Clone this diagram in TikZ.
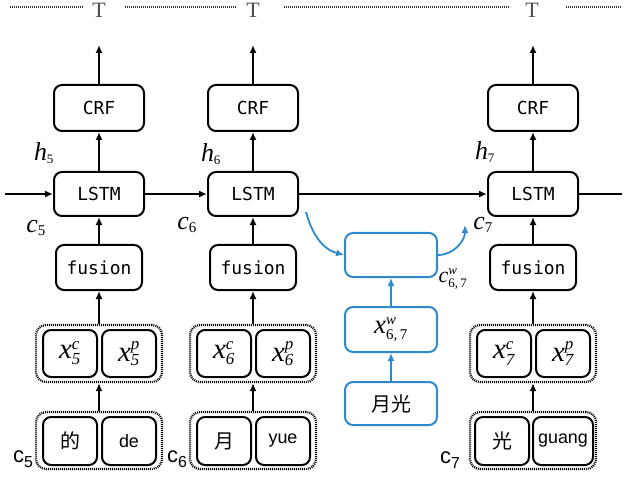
\documentclass[tikz,border=0pt]{standalone}
\usepackage{fontspec}
\usetikzlibrary{arrows.meta}
\newfontfamily\monof{DejaVu Sans Mono}
\newfontfamily\sansf{Liberation Sans}
\newfontfamily\cjkf{Noto Sans CJK SC}
\newfontfamily\serf{Liberation Serif}
\definecolor{myblue}{RGB}{46,138,204}
\newcommand\tv[4][13]{\ensuremath{\mbox{\serf\itshape #2}^{\mbox{\serf\itshape\fontsize{#1}{#1}\selectfont #3}}_{\mbox{\serf\fontsize{#1}{#1}\selectfont #4}}}}
\newcommand\tvi[3]{\ensuremath{\mbox{\serf\itshape #1}^{\mbox{\serf\itshape\fontsize{17}{17}\selectfont #2}}_{\mbox{\serf\itshape\fontsize{17}{17}\selectfont #3}}}}
\newcommand\tvs[3][13]{\ensuremath{\mbox{\serf\itshape #2}_{\mbox{\serf\fontsize{#1}{#1}\selectfont #3}}}}
\begin{document}
\begin{tikzpicture}[x=1bp,y=-1bp,
  box/.style={draw, line width=2bp, rounded corners=8bp, inner sep=0pt, anchor=center},
  crfbox/.style={box, minimum width=90bp, minimum height=46bp, font=\monof\fontsize{18}{18}\selectfont},
  lstmbox/.style={box, minimum width=90bp, minimum height=44bp, font=\monof\fontsize{18}{18}\selectfont},
  fusbox/.style={box, minimum width=86bp, minimum height=45bp, font=\monof\fontsize{18}{18}\selectfont},
  inbox/.style={box, minimum width=54bp, minimum height=47bp, font=\fontsize{29}{29}\selectfont},
  chbox/.style={box, minimum width=54bp, minimum height=48bp, font=\cjkf\fontsize{20}{20}\selectfont},
  pybox/.style={box, minimum width=54bp, minimum height=48bp, font=\sansf\fontsize{18}{18}\selectfont},
  grp/.style={draw, line width=2.2bp, dash pattern=on 1bp off 1bp, rounded corners=10bp, minimum width=126bp, minimum height=57bp, inner sep=0pt},
  bbox/.style={box, draw=myblue, minimum width=92bp},
  arr/.style={-{Latex[length=8bp,width=7bp]}, line width=1.8bp},
  barr/.style={arr, draw=myblue, color=myblue},
  topdot/.style={line width=2.5bp, dash pattern=on 1.2bp off 0.8bp, draw=black!80},
  lbl/.style={font=\fontsize{26}{26}\selectfont, inner sep=0pt},
  slbl/.style={font=\sansf\fontsize{22}{22}\selectfont, inner sep=0pt}
]
\useasboundingbox (0,0) rectangle (629,479);

% top row
\node[font=\serf\fontsize{22}{22}\selectfont, text=black!70, inner sep=0pt] (T1) at (99,10) {T};
\node[font=\serf\fontsize{22}{22}\selectfont, text=black!70, inner sep=0pt] (T2) at (253,10) {T};
\node[font=\serf\fontsize{22}{22}\selectfont, text=black!70, inner sep=0pt] (T3) at (532,10) {T};
\coordinate (d0) at (10,7); \coordinate (d1) at (83,7);
\coordinate (d2) at (125,7); \coordinate (d3) at (236,7);
\coordinate (d4) at (284,7); \coordinate (d5) at (510,7);
\coordinate (d6) at (566,7); \coordinate (d7) at (621,7);
\draw[topdot] (d0) -- (d1);
\draw[topdot] (d2) -- (d3);
\draw[topdot] (d4) -- (d5);
\draw[topdot] (d6) -- (d7);

% columns
\foreach \i/\X in {1/99,2/253,3/533}{
  \node[crfbox] (crf\i) at (\X,108) {CRF};
  \node[lstmbox] (lstm\i) at (\X,194) {LSTM};
  \node[fusbox] (fus\i) at (\X,267.5) {fusion};
  \node[grp] (gt\i) at (\X,353.5) {};
  \node[grp] (gb\i) at (\X,440.5) {};
  \coordinate (top\i) at (\X,45);
  \draw[arr] (crf\i.north) -- (top\i);
  \draw[arr] (lstm\i.north) -- (crf\i.south);
  \draw[arr] (fus\i.north) -- (lstm\i.south);
  \draw[arr] (gt\i.north) -- (fus\i.south);
  \draw[arr] (gb\i.north) -- (gt\i.south);
}

% inner boxes
\node[inbox] (xc5) at (70,353.5) {\tvi{x}{c}{5}};
\node[inbox] (xp5) at (129,353.5) {\tvi{x}{p}{5}};
\node[inbox] (xc6) at (224,353.5) {\tvi{x}{c}{6}};
\node[inbox] (xp6) at (283,353.5) {\tvi{x}{p}{6}};
\node[inbox] (xc7) at (504,353.5) {\tvi{x}{c}{7}};
\node[inbox] (xp7) at (563,353.5) {\tvi{x}{p}{7}};

\node[chbox] (ch5) at (70,441) {的};
\node[pybox] (py5) at (129,441) {de};
\node[chbox] (ch6) at (224,441) {月};
\node[pybox] (py6) at (283,441) {yue};
\node[chbox] (ch7) at (502,441) {光};
\node[pybox, minimum width=60bp] (py7) at (563,441) {guang};

% horizontal chain
\coordinate (hin) at (5,194);
\coordinate (hout) at (622,194);
\draw[arr] (hin) -- (lstm1.west);
\draw[arr] (lstm1.east) -- (lstm2.west);
\draw[arr] (lstm2.east) -- (lstm3.west);
\draw[line width=1.8bp] (lstm3.east) -- (hout);

% labels
\node[lbl] (h5) at (44,153) {\tvs{h}{5}};
\node[lbl] (h6) at (211,154) {\tvs{h}{6}};
\node[lbl] (h7) at (485,152) {\tvs{h}{7}};
\node[lbl] (c5) at (36,228) {\tvs[15]{c}{5}};
\node[lbl] (c6) at (187,225) {\tvs[15]{c}{6}};
\node[lbl] (c7) at (483,225) {\tvs[15]{c}{7}};
\node[font=\fontsize{22}{22}\selectfont, inner sep=0pt] (cw) at (453,279) {\tv[13]{c}{w}{6,\,7}};

\node[slbl] (b5) at (23,459) {c\raisebox{-5bp}{\fontsize{16}{16}\selectfont 5}};
\node[slbl] (b6) at (177,459) {c\raisebox{-5bp}{\fontsize{16}{16}\selectfont 6}};
\node[slbl] (b7) at (450,460) {c\raisebox{-5bp}{\fontsize{16}{16}\selectfont 7}};

% blue word path
\node[bbox, minimum height=44bp] (wcell) at (391,255) {};
\node[bbox, minimum height=45bp, font=\fontsize{27}{27}\selectfont] (xw) at (391,329.5) {\tv[15]{x}{w}{6,\,7}};
\node[bbox, minimum height=43bp, font=\cjkf\fontsize{20}{20}\selectfont] (word) at (391,403.5) {月光};
\draw[barr] (word.north) -- (xw.south);
\draw[barr] (xw.north) -- (wcell.south);
\coordinate (bs) at (306,212);
\coordinate (be) at (465,225);
\draw[barr] (bs) to[out=-75, in=165] (wcell.west);
\draw[barr] (wcell.east) to[out=0, in=-90] (be);
\end{tikzpicture}
\end{document}
